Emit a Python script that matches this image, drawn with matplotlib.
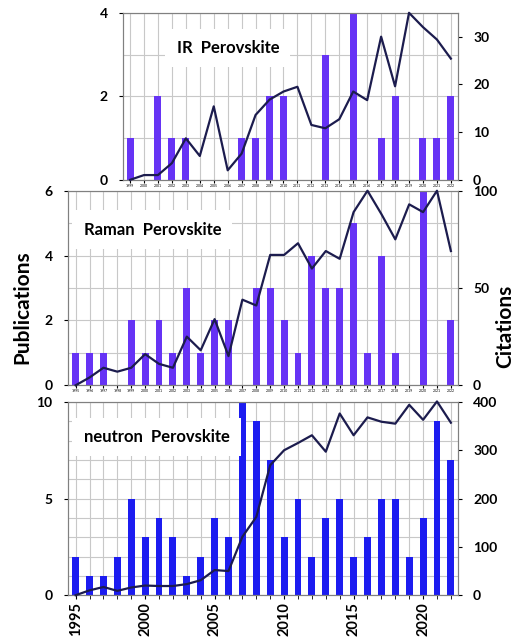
#!/usr/bin/env python3
"""
Publications (bars) and citations (line) per year for IR, Raman and
neutron studies of perovskites, stacked in three panels.
"""
import matplotlib
matplotlib.use('Agg')
import matplotlib.pyplot as plt
from matplotlib.ticker import MultipleLocator

plt.rcParams['font.family'] = ['Lato', 'DejaVu Sans']

# IR perovskite, 1999-2022
ir_years = list(range(1999, 2023))
ir_pubs = [1, 0, 2, 1, 1, 0, 0, 0, 1, 1, 2, 2, 0, 0, 3, 0, 4, 0, 1, 2, 0, 1, 1, 2]
ir_cites = [0, 1, 1, 3.5, 8.7, 5, 15.4, 2, 5.5, 13.6, 16.8, 18.5, 19.5, 11.5,
            10.8, 12.7, 18.5, 16.7, 30, 19.6, 35, 32, 29.4, 25.4]

# Raman perovskite, 1995-2022
raman_years = list(range(1995, 2023))
raman_pubs = [1, 1, 1, 0, 2, 1, 2, 1, 3, 1, 2, 2, 0, 3, 3, 2, 1, 4, 3, 3,
              5, 1, 4, 1, 0, 6, 0, 2]
raman_cites = [0, 4, 9, 7, 9, 16, 11, 9, 25, 18, 34, 15, 44, 41, 67, 67, 73,
               60, 69, 65, 89, 100, 88, 75, 93, 89, 100, 69]

# neutron perovskite, 1995-2022
neutron_years = list(range(1995, 2023))
neutron_pubs = [2, 1, 1, 2, 5, 3, 4, 3, 1, 2, 4, 3, 13, 9, 7, 3, 5, 2, 4, 5,
                2, 3, 5, 5, 2, 4, 9, 7]
neutron_cites = [0, 10, 17, 9, 16, 20, 19, 19, 23, 31, 52, 50, 121, 162, 269,
                 300, 315, 331, 297, 376, 331, 368, 359, 355, 394, 363, 401, 357]

BAR_VIOLET = '#6633f5'
BAR_BLUE = '#1c1cf0'
LINE_NAVY = '#1c1c4e'
GRID = '#c8c8c8'


def draw_panel(rect, years, pubs, cites, pub_max, pub_major, cite_max,
               cite_major, title, bar_color, box_xy, xlim, big_years=False):
    ax = fig.add_axes(rect)
    ax.bar(years, pubs, width=0.5, color=bar_color, zorder=2)
    ax.set_xlim(*xlim)
    ax.set_ylim(0, pub_max)
    ax.yaxis.set_major_locator(MultipleLocator(pub_major))
    ax.yaxis.set_minor_locator(MultipleLocator(1))
    ax.set_axisbelow(True)
    ax.grid(which='both', axis='y', color=GRID, lw=0.8)
    ax.tick_params(axis='y', which='major', labelsize=10, length=3, pad=8)
    ax.tick_params(axis='y', which='minor', length=0)
    for lbl in ax.get_yticklabels():
        lbl.set_fontweight('bold')
    if big_years:
        ax.set_xticks([y for y in years if y % 5 == 0])
        ax.set_xticks(years, minor=True)
        ax.tick_params(axis='x', which='major', labelsize=10.5, length=3,
                       pad=2, labelrotation=90)
        for lbl in ax.get_xticklabels():
            lbl.set_fontweight('bold')
        ax.tick_params(axis='x', which='minor', length=3)
    else:
        ax.set_xticks(years)
        ax.set_xticklabels([str(y) for y in years])
        ax.tick_params(axis='x', which='major', labelsize=2.5, length=2, pad=1)
    ax.grid(which='both', axis='x', color=GRID, lw=0.8)
    for side in ax.spines.values():
        side.set_color('#808080')

    ax2 = ax.twinx()
    ax2.plot(years, cites, color=LINE_NAVY, lw=1.6, zorder=3, clip_on=False)
    ax2.set_ylim(0, cite_max)
    ax2.yaxis.set_major_locator(MultipleLocator(cite_major))
    ax2.tick_params(axis='y', labelsize=10, length=3, pad=8)
    for lbl in ax2.get_yticklabels():
        lbl.set_fontweight('bold')
    for side in ax2.spines.values():
        side.set_color('#808080')

    ax2.text(box_xy[0], box_xy[1], title, transform=ax2.transAxes,
             fontsize=12, fontweight='bold', ha='left', va='center',
             zorder=5,
             bbox=dict(facecolor='white', edgecolor='none', pad=8))
    return ax, ax2


fig = plt.figure(figsize=(5.15, 6.4), dpi=100)

draw_panel([0.239, 0.719, 0.650, 0.261], ir_years, ir_pubs, ir_cites,
           4, 2, 35, 10, 'IR  Perovskite', BAR_VIOLET, (0.16, 0.79),
           (1998.5, 2022.5))
draw_panel([0.132, 0.398, 0.757, 0.304], raman_years, raman_pubs, raman_cites,
           6, 2, 100, 50, 'Raman  Perovskite', BAR_VIOLET, (0.04, 0.80),
           (1994.45, 2022.5))
draw_panel([0.132, 0.070, 0.757, 0.302], neutron_years, neutron_pubs,
           neutron_cites, 10, 5, 400, 100, 'neutron  Perovskite', BAR_BLUE,
           (0.04, 0.82), (1994.45, 2022.5), big_years=True)

fig.text(0.043, 0.52, 'Publications', rotation=90, ha='center', va='center',
         fontsize=15, fontweight='bold')
fig.text(0.982, 0.49, 'Citations', rotation=90, ha='center', va='center',
         fontsize=15, fontweight='bold')

fig.savefig('out.png', dpi=100)
